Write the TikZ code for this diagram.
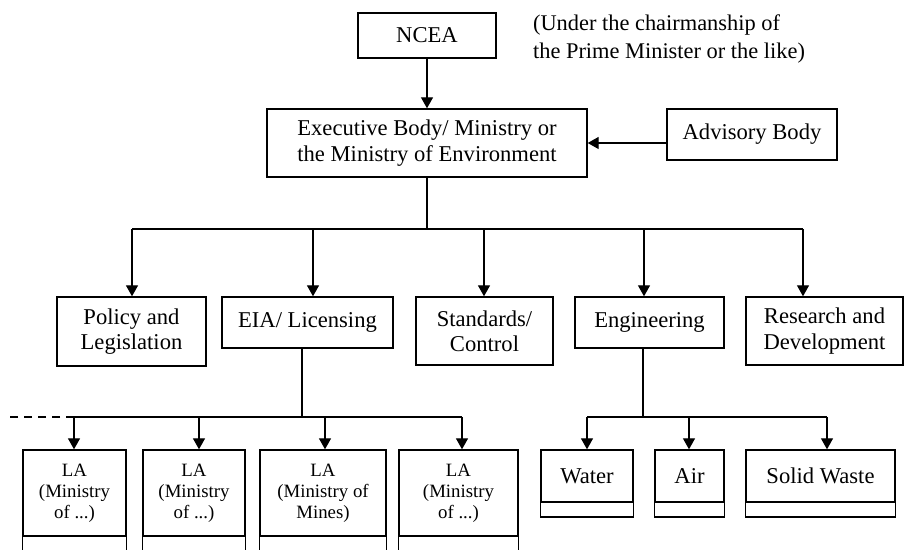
\documentclass[tikz,border=0pt]{standalone}
\usepackage{fontspec}
\setmainfont{Liberation Serif}
\usetikzlibrary{arrows.meta}

\begin{document}
\begin{tikzpicture}[x=0.5pt,y=-0.5pt,
    box/.style={draw, line width=0.7pt, inner sep=0pt, align=center,
      font=\fontsize{11.3}{12.7}\selectfont},
    labox/.style={box, minimum height=43pt, font=\fontsize{9.4}{10.5}\selectfont},
    subbox/.style={box, minimum height=26pt},
    link/.style={line width=0.7pt},
    arr/.style={link, -{Triangle[length=5.5pt,width=6pt]}}]
  \useasboundingbox (0,0) rectangle (905,550);
  \clip (0,0) rectangle (905,550);

  % top
  \node[box, minimum width=69pt, minimum height=22.5pt] (ncea) at (427,35.5) {NCEA};
  \node[anchor=west, align=left, font=\fontsize{11.2}{14}\selectfont] (note) at (526,39)
    {(Under the chairmanship of\\the Prime Minister or the like)};
  \node[box, minimum width=160pt, minimum height=34pt] (exec) at (427,143)
    {Executive Body/ Ministry or\\the Ministry of Environment};
  \node[box, minimum width=85pt, minimum height=25.5pt] (adv) at (752,134.5) {Advisory Body};

  \draw[arr] (ncea) -- (exec);
  \draw[arr] (exec.east -| adv.west) -- (exec.east);

  % departments
  \node[box, minimum width=74.5pt, minimum height=34.5pt] (policy) at (131.5,331.5) {Policy and\\Legislation};
  \node[box, minimum width=85.5pt, minimum height=25.5pt] (eia) at (307.5,322.5) {EIA/ Licensing};
  \node[box, minimum width=68.5pt, minimum height=34pt] (std) at (484.5,331) {Standards/\\Control};
  \node[box, minimum width=74.5pt, minimum height=25.5pt] (eng) at (649.5,322.5) {Engineering};
  \node[box, minimum width=78.5pt, minimum height=34pt] (rnd) at (824.5,331) {Research and\\Development};

  \coordinate (b1) at (132,229);
  \coordinate (b2) at (313,229);
  \coordinate (b3) at (484,229);
  \coordinate (b4) at (644,229);
  \coordinate (b5) at (803,229);
  \draw[link] (exec.south) -- (exec.south |- b1);
  \draw[link] (b1) -- (b5);
  \draw[arr] (b1) -- (b1 |- policy.north);
  \draw[arr] (b2) -- (b2 |- eia.north);
  \draw[arr] (b3) -- (b3 |- std.north);
  \draw[arr] (b4) -- (b4 |- eng.north);
  \draw[arr] (b5) -- (b5 |- rnd.north);

  % licensing authorities
  \node[labox, minimum width=51.5pt] (la1) at (74.5,493) {LA\\(Ministry\\of ...)};
  \node[labox, minimum width=51pt] (la2) at (194,493) {LA\\(Ministry\\of ...)};
  \node[labox, minimum width=63pt] (la3) at (323,493) {LA\\(Ministry of\\Mines)};
  \node[labox, minimum width=59.5pt] (la4) at (458.5,493) {LA\\(Ministry\\of ...)};

  \coordinate (lacut) at (0,570);
  \foreach \n in {la1,la2,la3,la4}
    \draw[line width=0.7pt] (\n.south west) rectangle (\n.south east |- lacut);

  \coordinate (la) at (302,417);
  \coordinate (d1) at (74,417);
  \coordinate (d2) at (199,417);
  \coordinate (d3) at (325,417);
  \coordinate (d4) at (462,417);
  \coordinate (dashend) at (7,417);
  \draw[link] (la |- eia.south) -- (la);
  \draw[link] (d1) -- (d4);
  \draw[link, dash pattern=on 4pt off 3pt] (d1) -- (dashend);
  \draw[arr] (d1) -- (d1 |- la1.north);
  \draw[arr] (d2) -- (d2 |- la2.north);
  \draw[arr] (d3) -- (d3 |- la3.north);
  \draw[arr] (d4) -- (d4 |- la4.north);

  % engineering units
  \node[subbox, minimum width=46pt] (water) at (587,476) {Water};
  \node[subbox, minimum width=34.5pt] (air) at (689.5,476) {Air};
  \node[subbox, minimum width=74.5pt] (solid) at (820.5,476) {Solid Waste};

  \coordinate (subcut) at (0,517);
  \foreach \n in {water,air,solid}
    \draw[line width=0.7pt] (\n.south west) rectangle (\n.south east |- subcut);

  \coordinate (e0) at (643,417);
  \coordinate (e1) at (587,417);
  \coordinate (e2) at (689,417);
  \coordinate (e3) at (827,417);
  \draw[link] (e0 |- eng.south) -- (e0);
  \draw[link] (e1) -- (e3);
  \draw[arr] (e1) -- (e1 |- water.north);
  \draw[arr] (e2) -- (e2 |- air.north);
  \draw[arr] (e3) -- (e3 |- solid.north);
\end{tikzpicture}
\end{document}
